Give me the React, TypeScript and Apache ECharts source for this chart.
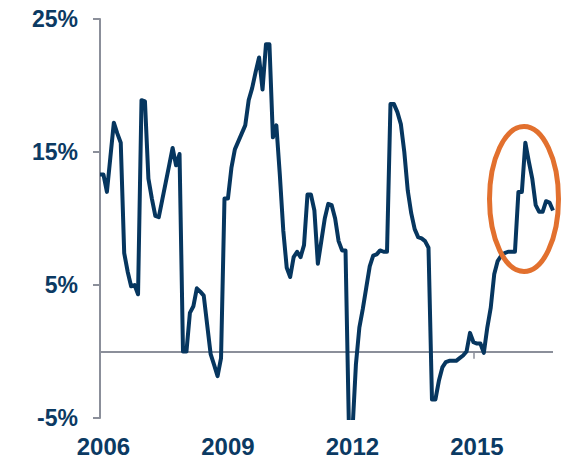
import React, { useEffect, useRef } from "react";
import * as echarts from "echarts";

// Monthly series, Dec 2005 .. Nov 2016
const startYear = 2005;
const startMonth = 12;
const values: number[] = [
  13.3, 13.3, 12.0, 14.6, 17.2, 16.4, 15.7, 7.4, 6.0, 4.9, 5.0, 4.3,
  18.9, 18.8, 13.0, 11.5, 10.2, 10.1, 11.4, 12.7, 14.0, 15.3, 14.0, 14.85,
  0.0, 0.0, 2.9, 3.4, 4.75, 4.5, 4.2, 2.0, -0.2, -1.0, -1.85, -0.5,
  11.5, 11.5, 13.8, 15.2, 15.8, 16.4, 17.0, 18.9, 19.8, 21.0, 22.1, 19.7,
  23.1, 23.1, 16.1, 17.0, 13.3, 9.1, 6.3, 5.6, 7.1, 7.5, 7.1, 8.0,
  11.8, 11.8, 10.6, 6.6, 8.3, 10.0, 11.1, 11.0, 10.0, 8.3, 7.6, 7.6,
  -6.0, -6.0, -1.0, 1.8, 3.2, 4.8, 6.4, 7.2, 7.3, 7.6, 7.5, 7.5,
  18.6, 18.6, 18.0, 17.1, 15.0, 12.1, 10.4, 9.2, 8.6, 8.5, 8.3, 7.8,
  -3.6, -3.6, -2.2, -1.2, -0.8, -0.7, -0.7, -0.7, -0.5, -0.3, 0.0, 1.4,
  0.7, 0.6, 0.6, -0.1, 1.8, 3.3, 5.8, 6.8, 7.2, 7.4, 7.5, 7.5,
  7.5, 12.0, 12.0, 15.7, 14.3, 13.0, 11.0, 10.5, 10.5, 11.3, 11.2, 10.6,
];
const xTickYears: string[] = ["2006", "2009", "2012", "2015"];
const yTickValues: number[] = [-5, 5, 15, 25];
const smallTickMonth = "2014-12";

const categories: string[] = values.map((_, i) => {
  const m0 = startMonth - 1 + i;
  const y = startYear + Math.floor(m0 / 12);
  const m = (m0 % 12) + 1;
  return `${y}-${m < 10 ? "0" + m : m}`;
});

const NAVY = "#0b3a63";
const GRAY = "#8b8f9a";
const ORANGE = "#e2702e";
const FONT = "Liberation Sans, Arial, sans-serif";

export default function App() {
  const ref = useRef<HTMLDivElement>(null);
  useEffect(() => {
    if (!ref.current) return;
    const chart = echarts.init(ref.current, undefined, { renderer: "svg" });
    chart.setOption({
      animation: false,
      grid: { left: 100, right: 21, top: 19, bottom: 45, containLabel: false },
      xAxis: {
        type: "category",
        boundaryGap: false,
        data: categories,
        axisLine: { show: false },
        axisTick: { show: false },
        splitLine: { show: false },
        axisLabel: {
          interval: (_i: number, v: string) =>
            v.endsWith("-01") && xTickYears.includes(v.slice(0, 4)),
          formatter: (v: string) => v.slice(0, 4),
          color: NAVY,
          fontSize: 24,
          fontWeight: "bold",
          fontFamily: FONT,
          margin: 16,
        },
      },
      yAxis: {
        type: "value",
        min: -5,
        max: 25,
        axisLine: { show: true, lineStyle: { color: GRAY, width: 2 } },
        axisTick: {
          show: true,
          length: 7,
          customValues: yTickValues,
          lineStyle: { color: GRAY, width: 2 },
        },
        splitLine: { show: false },
        axisLabel: {
          customValues: yTickValues,
          formatter: (v: number) => `${v}%`,
          color: NAVY,
          fontSize: 23,
          fontWeight: "bold",
          fontFamily: FONT,
          margin: 22,
        },
      },
      series: [
        {
          type: "line",
          data: values,
          symbol: "none",
          clip: true,
          lineStyle: { color: "#06365f", width: 4, join: "round" },
          markLine: {
            silent: true,
            symbol: "none",
            label: { show: false },
            lineStyle: { color: GRAY, width: 2, type: "solid" },
            data: [
              { yAxis: 0 },
              [
                { coord: [smallTickMonth, 0], lineStyle: { width: 1.5 } },
                { coord: [smallTickMonth, -0.55] },
              ],
            ],
            z: 1,
          },
          z: 3,
        },
      ],
      graphic: [
        {
          type: "ellipse",
          shape: { cx: 524, cy: 199, rx: 34.5, ry: 72.5 },
          style: { fill: "none", stroke: ORANGE, lineWidth: 5 },
          z: 10,
        },
      ],
    });
    return () => chart.dispose();
  }, []);
  return (
    <div
      ref={ref}
      style={{ position: "fixed", left: 0, top: 0, width: 574, height: 463, background: "#fff" }}
    />
  );
}
